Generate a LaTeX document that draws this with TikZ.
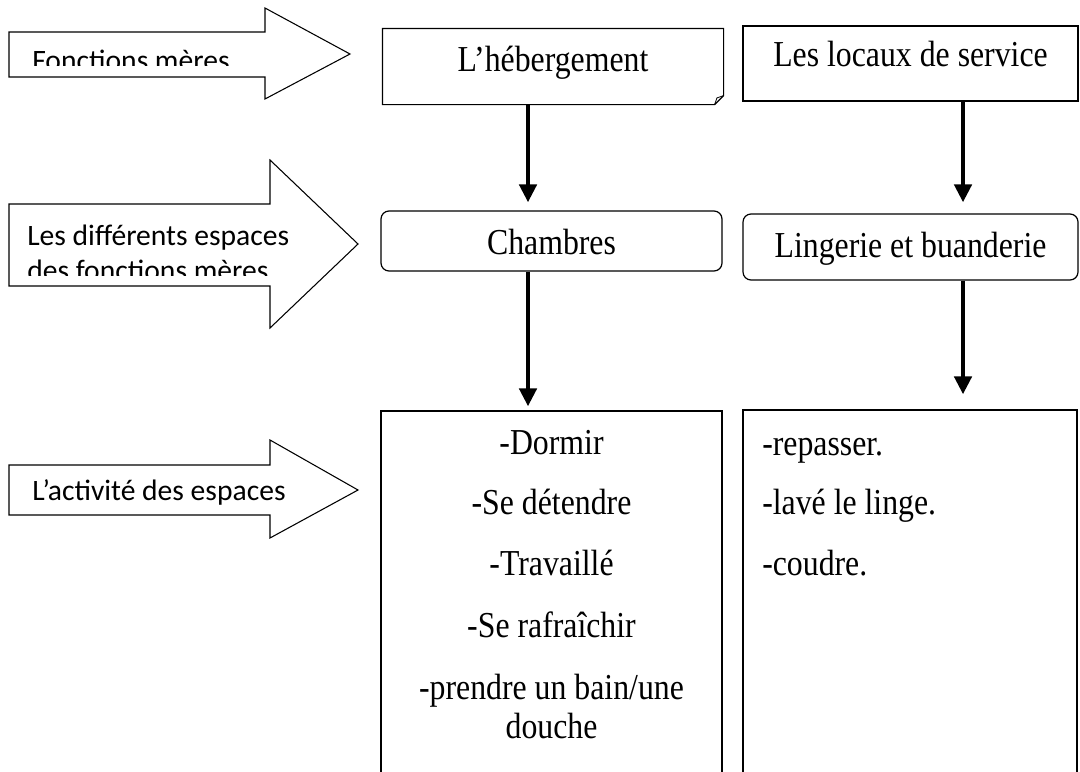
\documentclass[tikz,border=0pt]{standalone}
\usepackage{fontspec}
\setmainfont{Liberation Serif}[FakeStretch=0.87]
\newfontfamily\lblfont{Carlito}
\usetikzlibrary{arrows.meta,positioning,calc}

\begin{document}
\begin{tikzpicture}[x=0.75pt,y=-0.75pt,
  font=\fontsize{27.4pt}{32pt}\selectfont,
  box/.style={draw,line width=0.9pt,inner sep=0pt},
  rbox/.style={box,rounded corners=6pt},
  item/.style={inner sep=0pt},
  lbl/.style={font=\lblfont\fontsize{22.2pt}{26pt}\selectfont,inner sep=0pt,anchor=base west},
  conn/.style={line width=3.5pt,-{Triangle[width=12.75pt,length=13.5pt]}},
  barrow/.style={draw,line width=0.8pt,line join=miter}]
\useasboundingbox (0,0) rectangle (1080,771);
\coordinate (colL) at (528,0);
\coordinate (colR) at (963,0);
% fonctions meres
\node[box,draw=none,anchor=base,minimum width=255pt,text height=31.5pt,text depth=24.75pt] (heb) at (553,71) {L’hébergement};
\draw[line width=0.9pt] (heb.north west) -- (heb.north east) -- ([yshift=6.75pt]heb.south east) -- ([xshift=-6.75pt]heb.south east) -- (heb.south west) -- cycle;
\draw[line width=0.6pt] ([xshift=-6.75pt]heb.south east) -- ([xshift=-5pt,yshift=5pt]heb.south east) -- ([yshift=6.75pt]heb.south east);
\node[box,anchor=base,minimum width=251.25pt,text height=30pt,text depth=26.25pt] (serv) at (910.5,66) {Les locaux de service};
% espaces
\node[rbox,anchor=base,minimum width=255.75pt,text height=32.25pt,text depth=12.75pt] (ch) at (551.5,254) {Chambres};
\node[rbox,anchor=base,minimum width=251.25pt,text height=32.25pt,text depth=17.25pt] (ling) at (910.5,257) {Lingerie et buanderie};
% activites
\node[box,minimum width=255.75pt,minimum height=272.25pt] (actA) at (551.5,592.5) {};
\node[box,minimum width=250.5pt,minimum height=273pt] (actB) at (910,592) {};
\foreach \t/\y [count=\i] in {-Dormir/454,-Se détendre/514,-Travaillé/575,-Se rafraîchir/637,{-prendre un bain/une}/699,douche/738}
  \node[item,anchor=base] (a\i) at (551.5,\y) {\t};
\foreach \t/\y [count=\i] in {-repasser./455,-lavé le linge./514,-coudre./575}
  \node[item,anchor=base west] (b\i) at (762,\y) {\t};
\draw[conn,shorten >=6pt] (heb.south -| colL) -- (ch.north -| colL);
\draw[conn,shorten >=8.25pt] (serv.south -| colR) -- (ling.north -| colR);
\draw[conn,shorten >=3pt] (ch.south -| colL) -- (actA.north -| colL);
\draw[conn,shorten >=11.25pt] (ling.south -| colR) -- (actB.north -| colR);
% fleches de gauche
\draw[barrow] (9,32) -- (265,32) -- (265,8) -- (350,54) -- (265,99) -- (265,77) -- (9,77) -- cycle;
\begin{scope}
  \clip (9,32) rectangle (300,65);
  \node[lbl] (fm) at (32,70.5) {Fonctions mères};
\end{scope}
\draw[barrow] (9,204) -- (270,204) -- (270,160) -- (358,244) -- (270,328) -- (270,286) -- (9,286) -- cycle;
\begin{scope}
  \clip (9,204) rectangle (300,275);
  \node[lbl] (de1) at (27,245) {Les différents espaces};
  \node[lbl] (de2) at (27,280) {des fonctions mères};
\end{scope}
\draw[barrow] (9,465) -- (270,465) -- (270,440) -- (358,490) -- (270,538) -- (270,515) -- (9,515) -- cycle;
\begin{scope}
  \clip (9,465) rectangle (300,505);
  \node[lbl] (ae) at (32,500) {L’activité des espaces};
\end{scope}
\end{tikzpicture}
\end{document}
